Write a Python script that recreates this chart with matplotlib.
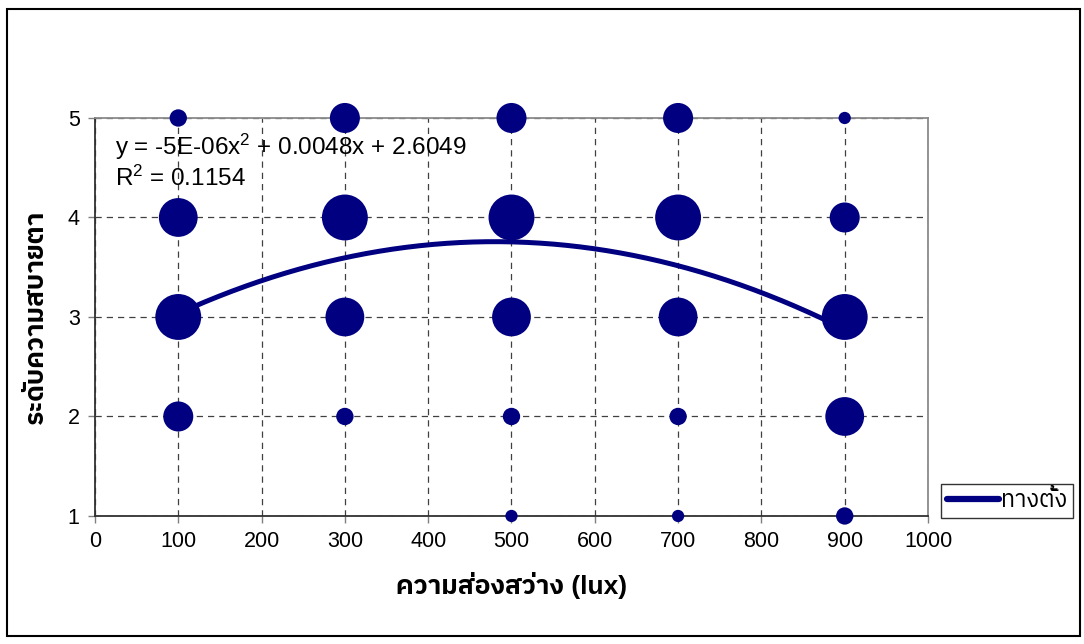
import matplotlib
matplotlib.use("Agg")
import matplotlib.pyplot as plt
from matplotlib import font_manager
from matplotlib.ft2font import FT2Font
from matplotlib.patches import Rectangle
from matplotlib.lines import Line2D
import numpy as np

# Illuminance levels (lux) and comfort ratings
lux_levels = [100, 300, 500, 700, 900]
comfort_levels = [1, 2, 3, 4, 5]

# Number of responses at each (lux, rating); rows follow lux_levels, columns comfort_levels
responses = [
    [0, 6, 14, 10, 2],
    [0, 2, 10, 14, 6],
    [1, 2, 10, 14, 6],
    [1, 2, 10, 14, 6],
    [2, 10, 14, 6, 1],
]

# Quadratic trend: y = a x^2 + b x + c
trend_a = -5e-06
trend_b = 0.0048
trend_c = 2.6049
trend_r2 = 0.1154
trend_range = [100, 900]

series_name = "ทางตั้ง"
x_title = "ความส่องสว่าง (lux)"
y_title = "ระดับความสบายตา"


def find_thai_family():
    preferred = []
    others = []
    seen = set()
    for fe in font_manager.fontManager.ttflist:
        if fe.name in seen:
            continue
        try:
            cmap = FT2Font(fe.fname).get_charmap()
        except Exception:
            continue
        if 0x0E04 in cmap and 0x0E31 in cmap:
            seen.add(fe.name)
            if "Thai" in fe.name:
                preferred.append(fe.name)
            else:
                others.append(fe.name)
    found = preferred + others
    return found[0] if found else None


thai_family = find_thai_family()
families = ["Liberation Sans"]
if thai_family:
    families.append(thai_family)
families.append("DejaVu Sans")

plt.rcParams["font.family"] = families
plt.rcParams["mathtext.fontset"] = "custom"
plt.rcParams["mathtext.rm"] = "Liberation Sans"
plt.rcParams["mathtext.it"] = "Liberation Sans"

navy = "#000080"

fig = plt.figure(figsize=(10.84, 6.44), dpi=100)
ax = fig.add_axes([0.0876, 0.1988, 0.7685, 0.618])

# Bubbles: area proportional to response count
size_per_response = 78.0
xs, ys, ss = [], [], []
for xi, row in zip(lux_levels, responses):
    for yi, n in zip(comfort_levels, row):
        if n > 0:
            xs.append(xi)
            ys.append(yi)
            ss.append(n * size_per_response)
ax.scatter(xs, ys, s=ss, color=navy, edgecolors="none", zorder=3, clip_on=False)

# Trend line
xt = np.linspace(trend_range[0], trend_range[1], 200)
yt = trend_a * xt ** 2 + trend_b * xt + trend_c
ax.plot(xt, yt, color=navy, lw=3.6, solid_capstyle="round", zorder=4)

ax.set_xlim(0, 1000)
ax.set_ylim(1, 5)
ax.set_xticks(range(0, 1001, 100))
ax.set_yticks(comfort_levels)
ax.tick_params(axis="both", direction="out", length=5, width=1, color="#808080",
               labelsize=15.5, pad=6)

ax.grid(True, linestyle=(0, (5, 4)), color="#404040", linewidth=0.9, zorder=1)
ax.set_axisbelow(True)
for side in ["left", "bottom"]:
    ax.spines[side].set_color("#303030")
    ax.spines[side].set_linewidth(1.3)
for side in ["top", "right"]:
    ax.spines[side].set_color("#8a8a8a")
    ax.spines[side].set_linewidth(1.3)

ax.set_xlabel(x_title, fontsize=19, fontweight="bold", labelpad=14)
ax.set_ylabel(y_title, fontsize=19, fontweight="bold", labelpad=14)

ax.text(0.024, 0.965, "y = -5E-06x$^{2}$ + 0.0048x + 2.6049",
        transform=ax.transAxes, fontsize=17.5, va="top", ha="left", zorder=5)
ax.text(0.024, 0.88, "R$^{2}$ = %.4f" % trend_r2,
        transform=ax.transAxes, fontsize=17.5, va="top", ha="left", zorder=5)

handle = Line2D([], [], color=navy, lw=4.5, solid_capstyle="round")
leg = fig.legend([handle], [series_name], loc="center left",
                 bbox_to_anchor=(0.868, 0.222), fontsize=17, frameon=True,
                 fancybox=False, borderpad=0.25, handlelength=2.2,
                 handletextpad=0.1, borderaxespad=0)
leg.get_frame().set_edgecolor("black")
leg.get_frame().set_linewidth(1.0)

# Outer chart border
fig.patches.append(Rectangle((7 / 1084, 8 / 644), 1073 / 1084, 627 / 644,
                             transform=fig.transFigure, fill=False,
                             edgecolor="black", linewidth=1.5))

fig.savefig("out.png", dpi=100)
